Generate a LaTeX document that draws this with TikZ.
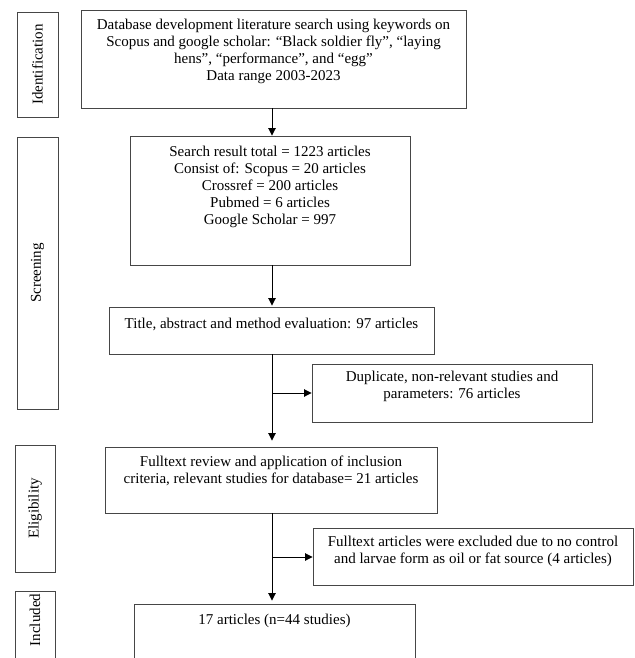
\documentclass[tikz,border=0pt]{standalone}
\usepackage{fontspec}
\setmainfont{Liberation Serif}
\usetikzlibrary{arrows.meta,positioning}
\definecolor{LineClr}{RGB}{70,70,70}

\begin{document}
\begin{tikzpicture}[x=1pt,y=-1pt,
  box/.style={draw=LineClr,line width=0.9pt,inner sep=0pt},
  txt/.style={align=center,inner sep=0pt,font=\fontsize{15}{17}\selectfont},
  stage/.style={box,rotate=90,font=\fontsize{15}{16}\selectfont},
  flow/.style={draw=black,line width=0.9pt,-{Triangle[length=7.5pt,width=7.5pt]}}]
\useasboundingbox (0,0) rectangle (634,658);
\clip (0,0) rectangle (634,658);

% stages
\node[stage,minimum width=105,minimum height=41] (ident) at (37.5,64.5) {Identification};
\node[stage,minimum width=272,minimum height=41] (screen) at (37.5,273) {Screening};
\node[stage,minimum width=127,minimum height=40] (elig) at (35,508.5) {Eligibility};
\node[stage,minimum width=120,minimum height=40] (incl) at (35,651) {};
\node[rotate=90,inner sep=0pt,font=\fontsize{15}{16}\selectfont] (incltxt) at (35,620) {Included};

% boxes
\node[box,minimum width=385,minimum height=98] (search) at (273.5,59) {};
\node[txt,below=9.5pt of search.north] (searchtxt) {Database development literature search using keywords on\\
  Scopus and google scholar: “Black soldier fly”, “laying\\
  hens”, “performance”, and “egg”\\
  Data range 2003-2023};

\node[box,minimum width=280,minimum height=129] (result) at (270,200.5) {};
\node[txt,below=10pt of result.north] (resulttxt) {Search result total = 1223 articles\\
  Consist of: Scopus = 20 articles\\
  Crossref = 200 articles\\
  Pubmed = 6 articles\\
  Google Scholar = 997};

\node[box,minimum width=325,minimum height=47] (title) at (271.5,330.5) {};
\node[txt,below=11.5pt of title.north] (titletxt) {Title, abstract and method evaluation: 97 articles};

\node[box,minimum width=280,minimum height=58] (dup) at (452,393) {};
\node[txt,below=7.5pt of dup.north] (duptxt) {Duplicate, non-relevant studies and\\ parameters: 76 articles};

\node[box,minimum width=332,minimum height=66] (fulltext) at (271,480) {};
\node[txt,below=9.5pt of fulltext.north] (fulltexttxt) {Fulltext review and application of inclusion\\
  criteria, relevant studies for database= 21 articles};

\node[box,minimum width=320,minimum height=57] (excl) at (473,556.5) {};
\node[txt,below=8.5pt of excl.north] (excltxt) {Fulltext articles were excluded due to no control\\
  and larvae form as oil or fat source (4 articles)};

\node[box,minimum width=281,minimum height=90] (final) at (274.5,649) {};
\node[txt,below=10.5pt of final.north] (finaltxt) {17 articles (n=44 studies)};

% arrows
\coordinate (spine) at (272,0);
\coordinate (split1) at (272,393);
\coordinate (split2) at (272,557);
\draw[flow] (search.south -| spine) -- (result.north -| spine);
\draw[flow,shorten >=1pt] (result.south -| spine) -- (title.north -| spine);
\draw[flow,shorten >=6pt] (title.south -| spine) -- (fulltext.north -| spine);
\draw[flow] (split1) -- (split1 -| dup.west);
\draw[flow,shorten >=3pt] (fulltext.south -| spine) -- (final.north -| spine);
\draw[flow] (split2) -- (split2 -| excl.west);

\end{tikzpicture}
\end{document}
